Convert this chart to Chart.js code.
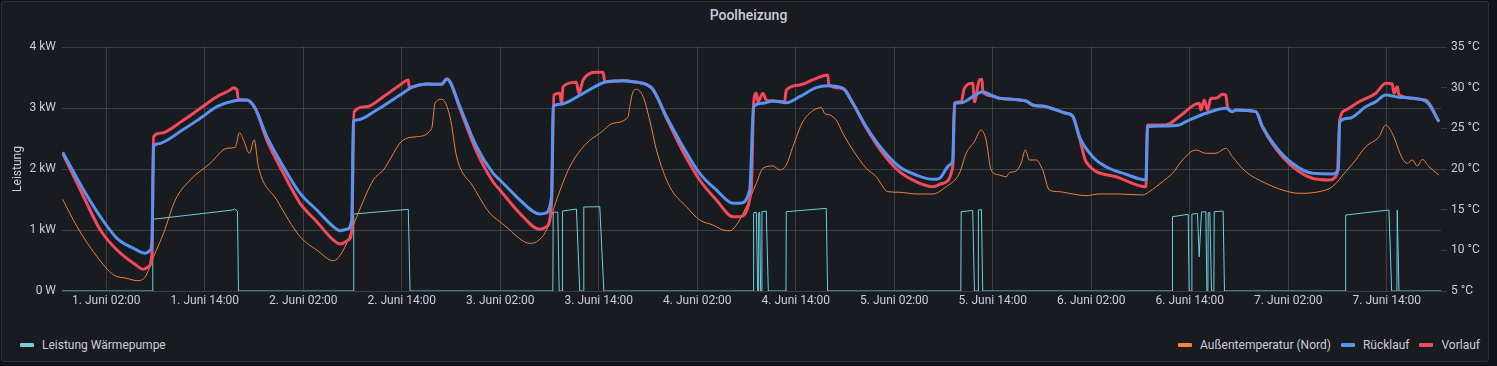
<!DOCTYPE html>
<html lang="de">
<head>
<meta charset="UTF-8">
<title>Poolheizung</title>
<script src="https://cdn.jsdelivr.net/npm/chart.js@4.4.0/dist/chart.umd.min.js"></script>
<style>
    body {
        margin: 0;
        background: #111217;
        font-family: Roboto, "Noto Sans", sans-serif;
        width: 1497px;
        height: 366px;
        overflow: hidden;
        position: relative;
    }
    .panel {
        position: absolute;
        left: 1px; top: 1px;
        width: 1486px; height: 359px;
        background: #181b1f;
        border: 1px solid rgba(204, 204, 220, 0.12);
        border-radius: 3px;
    }
    .title {
        position: absolute;
        left: 0; right: 0; top: 1px;
        text-align: center;
        font-size: 14px;
        font-weight: 500;
        line-height: 28px;
        color: #ccccdc;
    }
    #chart { position: absolute; left: 0; top: 0; }
    .legend {
        position: absolute;
        top: 337px;
        display: flex;
        gap: 10px;
        font-size: 12px;
        line-height: 16px;
        color: #ccccdc;
    }
    .legend .item { display: flex; align-items: center; }
    .swatch { width: 14px; height: 4px; border-radius: 1px; margin-right: 8px; }
</style>
</head>
<body>
<div class="panel"></div>
<div class="title">Poolheizung</div>
<canvas id="chart" width="1497" height="320"></canvas>
<div class="legend" style="left:20px">
    <span class="item"><span class="swatch" style="background:#6ED0E0"></span>Leistung Wärmepumpe</span>
</div>
<div class="legend" style="right:17px">
    <span class="item"><span class="swatch" style="background:#EF843C"></span>Außentemperatur (Nord)</span>
    <span class="item"><span class="swatch" style="background:#5794F2"></span>Rücklauf</span>
    <span class="item"><span class="swatch" style="background:#F2495C"></span>Vorlauf</span>
</div>
<script>
// x = Stunden ab 1. Juni 00:00
var xMin = -3.4, xMax = 164.6;
var xTickHours = [2, 14, 26, 38, 50, 62, 74, 86, 98, 110, 122, 134, 146, 158];
var xTickLabels = ['1. Juni 02:00', '1. Juni 14:00', '2. Juni 02:00', '2. Juni 14:00', '3. Juni 02:00',
    '3. Juni 14:00', '4. Juni 02:00', '4. Juni 14:00', '5. Juni 02:00', '5. Juni 14:00',
    '6. Juni 02:00', '6. Juni 14:00', '7. Juni 02:00', '7. Juni 14:00'];
var powerTicks = [0, 1000, 2000, 3000, 4000];
var powerTickLabels = ['0 W', '1 kW', '2 kW', '3 kW', '4 kW'];
var tempTicks = [5, 10, 15, 20, 25, 30, 35];
var tempTickLabels = ['5 °C', '10 °C', '15 °C', '20 °C', '25 °C', '30 °C', '35 °C'];

// [Stunde, W]
var leistung = [[-3.4,0],[7.63,0],[7.66,1175],[17.42,1328],[17.6,1345],[17.98,1310],[18.1,0],
    [32.1,0],[32.14,1262],[38.79,1339],[39.0,0],
    [56.4,0],[56.44,1290],[57.0,1295],[57.17,0],[57.55,0],[57.58,1311],[59.27,1344],[59.68,0],
    [60.13,0],[60.17,1377],[62.12,1382],[62.61,0],
    [80.82,0],[80.86,1283],[81.19,1290],[81.35,0],[81.45,0],[81.47,1283],[81.6,1290],[81.71,0],
    [81.85,0],[81.87,1300],[82.4,1310],[82.65,0],[84.8,0],[84.84,1300],[89.71,1355],[89.87,0],
    [106.1,0],[106.14,1300],[107.55,1320],[107.76,0],[108.2,0],[108.24,1328],[108.61,1335],[108.77,0],
    [131.85,0],[131.89,1218],[133.8,1257],[133.92,0],[134.2,0],[134.25,1262],[134.93,1270],[135.14,560],
    [135.42,1295],[135.95,1300],[136.08,0],[136.2,0],[136.24,1283],[136.44,1290],[136.64,0],
    [136.93,0],[136.97,1300],[138.06,1311],[138.22,0],
    [152.95,0],[152.99,1246],[158.26,1328],[158.59,0],[159.23,0],[159.27,1328],[159.48,0],[164.6,0]];

// [Stunde, °C]
var aussen = [[-3.32,16.27],[-1.57,12.91],[0.87,9.22],[2.89,6.97],[4.52,6.56],[5.74,6.27],[6.75,6.76],
    [7.76,9.22],[8.97,12.09],[10.4,16.19],[12.22,18.65],[14.66,20.7],[16.69,22.55],[17.7,22.67],
    [18.22,24.46],[18.71,23.57],[19.44,21.93],[20.01,23.57],[20.53,20.28],[22.77,16.19],[25.61,11.68],
    [27.64,10.04],[29.66,8.73],[30.88,10.04],[32.51,14.14],[34.53,18.65],[35.75,19.88],[38.18,23.57],
    [39.81,23.97],[41.64,25.0],[42.04,28.08],[42.86,28.57],[43.87,26.43],[44.68,21.51],[46.7,17.82],
    [48.73,14.55],[49.95,13.52],[51.17,12.5],[51.57,12.09],[53.6,10.86],[54.42,11.06],[55.63,12.5],
    [56.85,16.19],[58.47,20.28],[60.5,23.16],[62.12,24.39],[63.74,25.62],[65.56,26.43],[65.77,27.66],
    [66.17,29.5],[66.59,29.8],[67.39,28.89],[68.2,26.02],[69.02,22.34],[70.64,17.82],[72.67,15.36],
    [74.29,13.73],[75.91,13.11],[77.13,12.5],[77.94,12.41],[78.76,13.11],[79.97,15.36],[81.19,18.24],
    [81.99,20.09],[83.21,20.37],[84.03,19.88],[84.84,20.49],[85.64,22.74],[86.86,25.82],[88.08,27.17],
    [89.1,27.54],[89.5,26.85],[90.11,26.64],[90.93,26.02],[91.73,24.39],[92.95,22.34],[94.58,20.09],
    [95.8,19.05],[97.21,17.21],[98.63,17.14],[100.66,16.93],[102.68,16.93],[104.31,17.82],[105.93,19.47],
    [106.75,21.93],[107.76,23.36],[108.57,24.79],[109.18,23.57],[109.79,19.88],[110.8,19.26],[111.62,19.05],
    [112.02,19.55],[112.83,19.75],[113.44,20.7],[113.96,22.34],[114.45,21.11],[115.27,21.11],[116.07,19.88],
    [116.88,17.42],[118.1,17.21],[119.72,16.93],[121.35,16.72],[122.97,16.93],[125.4,16.93],[128.24,16.8],
    [129.05,17.21],[130.67,18.44],[131.89,19.47],[133.11,21.11],[134.74,22.34],[135.95,21.93],[137.17,21.93],
    [138.39,22.55],[139.19,21.51],[140.82,19.67],[143.26,18.24],[145.28,17.42],[147.31,17.01],[149.74,17.21],
    [151.36,17.82],[152.99,19.67],[154.21,21.11],[155.43,22.74],[157.05,23.97],[157.86,25.41],[158.66,24.39],
    [159.88,21.32],[160.49,20.7],[161.1,21.11],[161.71,20.37],[162.32,21.19],[163.13,20.28],[164.35,19.26]];

var ruecklauf = [[-3.32,22.05],[-0.76,17.42],[1.27,14.14],[3.3,11.48],[5.32,10.25],[6.75,9.64],[7.35,10.04],
    [7.56,11.27],[7.76,22.74],[8.17,23.07],[11.41,24.88],[13.44,26.23],[15.47,27.66],[17.49,28.36],
    [19.12,28.48],[20.13,27.46],[21.56,23.97],[23.58,20.28],[25.61,17.01],[27.64,14.96],[29.66,12.91],
    [30.48,12.41],[31.29,12.59],[31.9,13.73],[32.1,25.82],[32.51,26.02],[34.94,27.25],[37.78,29.1],
    [39.4,30.12],[41.03,30.45],[42.86,30.41],[43.46,31.07],[43.87,30.73],[45.08,27.66],[47.11,22.74],
    [49.13,19.47],[49.95,18.65],[51.17,17.42],[52.38,16.19],[54.82,14.47],[55.43,14.55],[56.24,16.59],
    [56.44,27.66],[57.25,27.95],[60.09,29.31],[62.94,30.73],[64.96,30.86],[66.17,30.73],[68.41,30.0],
    [70.24,26.43],[72.26,22.74],[74.29,19.47],[76.32,17.42],[78.34,15.78],[79.16,15.78],[80.38,17.42],
    [80.86,27.66],[81.99,28.08],[83.21,28.36],[84.84,28.15],[86.46,28.89],[88.49,30.0],[89.9,30.24],
    [91.73,29.92],[92.95,28.08],[94.58,25.2],[96.6,22.34],[98.63,20.28],[100.66,19.26],[102.68,18.73],
    [103.5,18.86],[104.72,20.49],[105.12,21.11],[105.33,28.08],[106.14,28.15],[107.55,28.89],[108.77,29.5],
    [109.98,28.98],[110.8,28.69],[114.05,28.36],[114.85,27.87],[116.48,27.66],[118.92,26.85],[119.72,26.52],
    [120.54,23.97],[122.16,21.51],[123.79,20.28],[126.22,19.35],[128.65,18.65],[128.85,25.2],[130.67,25.29],
    [132.7,25.41],[133.52,25.82],[135.95,26.85],[138.39,27.46],[139.19,27.05],[139.61,27.25],[142.04,27.05],
    [142.85,25.2],[144.47,22.74],[146.49,20.7],[148.92,19.47],[151.36,19.39],[152.09,19.88],[152.26,25.82],
    [153.4,26.23],[155.43,27.66],[156.65,28.27],[157.86,29.1],[159.48,28.82],[162.73,28.36],[164.35,25.82]];

var vorlauf = [[-3.32,21.93],[-0.76,16.59],[1.27,12.5],[3.3,10.04],[5.32,8.41],[6.54,7.67],[7.15,7.99],
    [7.56,9.67],[7.76,23.97],[8.57,24.39],[11.41,26.02],[13.44,27.46],[15.47,28.89],[17.09,29.71],
    [17.49,30.0],[17.91,29.71],[18.09,28.57],[19.12,28.48],[20.13,27.46],[21.56,23.56],[23.58,19.47],
    [25.61,15.78],[27.64,13.52],[29.66,11.27],[30.48,10.78],[31.49,11.27],[31.9,12.5],[32.18,27.05],
    [33.73,27.66],[35.75,28.89],[37.78,30.33],[38.79,30.94],[38.91,29.92],[39.4,30.12],[41.03,30.45],
    [42.86,30.41],[43.46,31.07],[43.87,30.73],[45.08,27.4],[47.11,22.13],[49.13,18.4],[49.95,17.42],
    [52.38,14.55],[54.82,12.59],[55.63,12.91],[56.24,15.78],[56.52,29.1],[57.25,29.31],[57.45,28.08],
    [57.65,30.12],[59.27,30.66],[59.56,29.31],[60.09,30.94],[61.72,31.89],[62.52,31.89],[62.73,30.73],
    [64.96,30.86],[66.17,30.73],[68.41,30.0],[70.24,26.27],[72.26,22.13],[74.29,18.65],[76.32,16.19],
    [78.34,14.14],[79.16,14.14],[80.57,17.42],[80.86,28.08],[81.19,29.31],[81.39,28.27],[81.99,29.31],
    [82.4,28.48],[83.21,28.36],[84.63,28.27],[84.84,29.71],[86.46,30.33],[88.49,31.15],[89.9,31.56],
    [90.02,30.33],[91.73,29.92],[92.95,28.08],[94.58,25.04],[96.6,21.93],[98.63,19.67],[100.66,18.44],
    [102.68,17.82],[103.9,18.24],[105.12,20.28],[105.33,28.08],[106.14,28.27],[106.54,29.92],[107.55,30.54],
    [107.76,28.27],[108.37,30.94],[108.69,31.03],[108.77,29.5],[109.98,28.98],[110.8,28.69],[114.05,28.36],
    [114.85,27.87],[116.48,27.66],[118.92,26.85],[119.72,26.52],[120.54,23.93],[121.35,20.9],[125.0,19.05],
    [128.65,17.82],[128.85,25.41],[131.09,25.41],[132.7,26.43],[135.14,28.08],[135.35,27.25],[135.75,28.48],
    [136.15,27.25],[136.56,28.69],[137.17,28.69],[137.98,29.18],[138.39,29.1],[138.58,27.66],[139.19,27.05],
    [139.61,27.25],[142.04,27.05],[142.85,25.16],[145.28,21.51],[148.92,18.86],[150.95,18.65],[151.96,19.47],
    [152.26,26.02],[152.99,27.25],[154.61,28.27],[156.65,29.31],[157.86,30.54],[158.66,30.45],[158.87,29.31],
    [159.27,30.12],[159.48,29.1],[162.73,28.48],[164.35,25.82]];

var gridColor = 'rgba(204, 204, 220, 0.2)';
var textColor = '#ccccdc';

Chart.defaults.font.family = 'Roboto, "Noto Sans", sans-serif';
Chart.defaults.font.size = 12;
Chart.defaults.color = textColor;

function toXY(arr) {
    return arr.map(function (p) { return { x: p[0], y: p[1] }; });
}

function line(label, arr, color, width, axis, order, smooth) {
    return {
        label: label,
        data: toXY(arr),
        borderColor: color,
        backgroundColor: color,
        borderWidth: width,
        pointRadius: 0,
        cubicInterpolationMode: smooth ? 'monotone' : 'default',
        tension: 0,
        fill: false,
        yAxisID: axis,
        order: order
    };
}

var ctx = document.getElementById('chart');
var chart = new Chart(ctx, {
    type: 'line',
    data: {
        datasets: [
            line('Leistung Wärmepumpe', leistung, '#6ED0E0', 1, 'y', 4, false),
            line('Außentemperatur (Nord)', aussen, '#EF843C', 1, 'y1', 3, true),
            line('Rücklauf', ruecklauf, '#5794F2', 3, 'y1', 1, true),
            line('Vorlauf', vorlauf, '#F2495C', 3, 'y1', 2, true)
        ]
    },
    options: {
        responsive: false,
        animation: false,
        layout: { padding: { top: 47, left: 0, right: 0, bottom: 0 } },
        plugins: {
            legend: { display: false },
            tooltip: { enabled: false }
        },
        scales: {
            x: {
                type: 'linear',
                min: xMin,
                max: xMax,
                afterBuildTicks: function (s) {
                    s.ticks = xTickHours.map(function (v) { return { value: v }; });
                },
                afterFit: function (s) { s.height = 29; },
                ticks: {
                    autoSkip: false,
                    maxRotation: 0,
                    padding: 3,
                    callback: function (v, i) { return xTickLabels[i]; }
                },
                grid: { color: gridColor, drawTicks: false },
                border: { display: false }
            },
            y: {
                type: 'linear',
                position: 'left',
                min: 0,
                max: 4000,
                afterBuildTicks: function (s) {
                    s.ticks = powerTicks.map(function (v) { return { value: v }; });
                },
                afterFit: function (s) { s.width = 62; },
                ticks: {
                    padding: 6,
                    callback: function (v, i) { return powerTickLabels[i]; }
                },
                title: { display: true, text: 'Leistung', padding: { top: 11, bottom: 0 } },
                grid: { color: gridColor, drawTicks: false },
                border: { display: false }
            },
            y1: {
                type: 'linear',
                position: 'right',
                min: 5,
                max: 35,
                afterBuildTicks: function (s) {
                    s.ticks = tempTicks.map(function (v) { return { value: v }; });
                },
                afterFit: function (s) { s.width = 56; },
                ticks: {
                    padding: 4,
                    callback: function (v, i) { return tempTickLabels[i]; }
                },
                grid: { drawOnChartArea: false, drawTicks: true, tickLength: 6, tickColor: gridColor },
                border: { display: false }
            }
        }
    }
});
</script>
</body>
</html>
